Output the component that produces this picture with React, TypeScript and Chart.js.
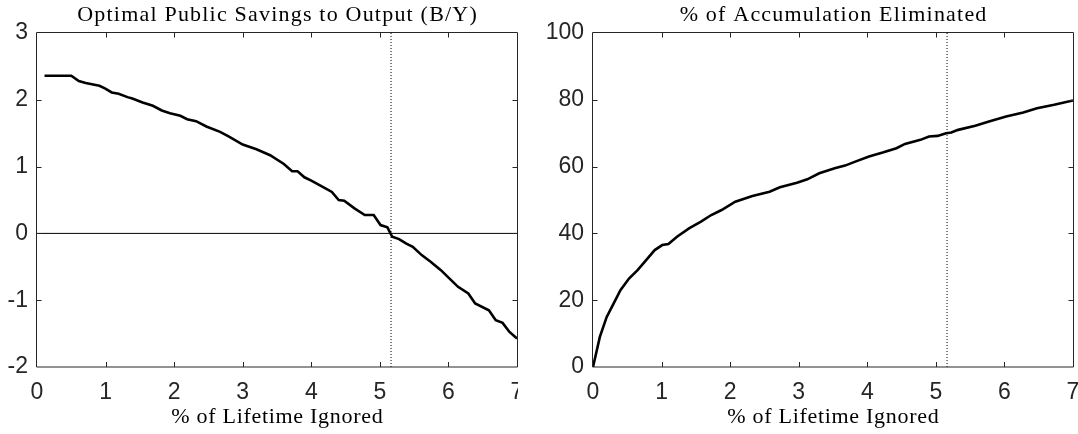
import React, { useEffect, useRef } from "react";
import { Chart, registerables } from "chart.js";

Chart.register(...registerables);

// ---- Data ----
const leftTitle = "Optimal Public Savings to Output (B/Y)";
const rightTitle = "% of Accumulation Eliminated";
const xAxisLabel = "% of Lifetime Ignored";
const markerX = 5.163;

const leftX = [0.11, 0.5, 0.61, 0.71, 0.91, 0.99, 1.09, 1.19, 1.32, 1.39, 1.54, 1.69, 1.82, 1.94, 2.09, 2.19, 2.32, 2.47, 2.67, 2.8, 3.0, 3.2, 3.4, 3.6, 3.72, 3.8, 3.9, 4.0, 4.18, 4.3, 4.4, 4.48, 4.63, 4.78, 4.91, 5.01, 5.11, 5.18, 5.28, 5.38, 5.48, 5.61, 5.74, 5.89, 5.99, 6.14, 6.29, 6.39, 6.59, 6.69, 6.79, 6.89, 7.0];
const leftY = [2.36, 2.36, 2.28, 2.25, 2.21, 2.17, 2.11, 2.09, 2.04, 2.02, 1.96, 1.91, 1.84, 1.8, 1.76, 1.71, 1.68, 1.6, 1.52, 1.45, 1.33, 1.26, 1.17, 1.04, 0.93, 0.93, 0.84, 0.79, 0.69, 0.62, 0.5, 0.49, 0.375, 0.275, 0.275, 0.125, 0.09, -0.05, -0.085, -0.15, -0.2, -0.325, -0.425, -0.55, -0.65, -0.8, -0.9, -1.05, -1.15, -1.3, -1.34, -1.475, -1.575];

const rightX = [0, 0.1, 0.2, 0.3, 0.4, 0.525, 0.65, 0.775, 0.9, 1.01, 1.1, 1.225, 1.4, 1.575, 1.725, 1.875, 2.075, 2.325, 2.575, 2.725, 2.975, 3.125, 3.3, 3.525, 3.675, 3.825, 4.025, 4.225, 4.425, 4.55, 4.775, 4.9, 5.025, 5.15, 5.225, 5.325, 5.575, 5.775, 6.025, 6.275, 6.475, 6.725, 7.0];
const rightY = [0, 9, 15, 19, 23, 26.5, 29, 32, 35, 36.5, 36.8, 39, 41.5, 43.5, 45.5, 47, 49.5, 51.2, 52.5, 53.8, 55.2, 56.2, 58, 59.5, 60.3, 61.5, 63, 64.2, 65.5, 66.8, 68, 69, 69.2, 70, 70.2, 71, 72.2, 73.5, 75, 76.2, 77.5, 78.5, 79.8];

const xMin = 0, xMax = 7, xStep = 1;
const leftYMin = -2, leftYMax = 3, leftYStep = 1;
const rightYMin = 0, rightYMax = 100, rightYStep = 20;

const AXIS_COLOR = "#262626";
const TICK_FONT = { family: "'Liberation Sans', Arial, sans-serif", size: 23 };
const SERIF = "'Liberation Serif', 'Times New Roman', serif";

const boxPlugin = {
  id: "matlabBox",
  afterDatasetsDraw(chart: any, _args: any, opts: any) {
    const { ctx, chartArea, scales } = chart;
    const { left, right, top, bottom } = chartArea;
    const xs = scales.x, ys = scales.y;
    ctx.save();
    ctx.strokeStyle = AXIS_COLOR;
    ctx.lineWidth = 1;
    ctx.beginPath();
    ctx.moveTo(left - 0.5, bottom);
    ctx.lineTo(left - 0.5, top - 0.5);
    ctx.lineTo(right + 0.5, top - 0.5);
    ctx.lineTo(right + 0.5, bottom);
    ctx.lineTo(left - 0.5, bottom);
    const tl = 5;
    xs.ticks.forEach((t: any) => {
      const p = Math.round(xs.getPixelForValue(t.value)) + 0.5;
      if (p <= left + 1 || p >= right - 1) return;
      ctx.moveTo(p, bottom);
      ctx.lineTo(p, bottom - tl);
      ctx.moveTo(p, top - 0.5);
      ctx.lineTo(p, top - 0.5 + tl);
    });
    ys.ticks.forEach((t: any) => {
      const p = Math.round(ys.getPixelForValue(t.value)) + 0.5;
      if (p <= top + 1 || p >= bottom - 1) return;
      ctx.moveTo(left - 0.5, p);
      ctx.lineTo(left - 0.5 + tl, p);
      ctx.moveTo(right + 0.5, p);
      ctx.lineTo(right + 0.5 - tl, p);
    });
    ctx.stroke();
    // title and x label
    const cx = (left + right) / 2;
    ctx.fillStyle = "#000";
    ctx.textAlign = "center";
    ctx.textBaseline = "middle";
    ctx.font = `22px ${SERIF}`;
    (ctx as any).letterSpacing = "1.2px";
    ctx.fillText(opts.text, cx + 0.6, 15.5);
    (ctx as any).letterSpacing = "0.7px";
    ctx.fillText(opts.xlabel, cx + 0.35, 417);
    (ctx as any).letterSpacing = "0px";
    ctx.restore();
  },
};

function makeConfig(
  xs: number[],
  ys: number[],
  yMin: number,
  yMax: number,
  yStep: number,
  yAxisWidth: number,
  padRight: number,
  title: string,
  withZero: boolean
): any {
  const datasets: any[] = [
    {
      data: xs.map((x, i) => ({ x, y: ys[i] })),
      borderColor: "#000",
      borderWidth: 2.6,
      pointRadius: 0,
      tension: 0,
      fill: false,
    },
    {
      data: [
        { x: markerX, y: yMin },
        { x: markerX, y: yMax },
      ],
      borderColor: "#000",
      borderWidth: 1,
      borderDash: [1, 2],
      pointRadius: 0,
      fill: false,
    },
  ];
  if (withZero) {
    datasets.push({
      data: [
        { x: xMin, y: 0 },
        { x: xMax, y: 0 },
      ],
      borderColor: "#000",
      borderWidth: 1,
      pointRadius: 0,
      fill: false,
    });
  }
  return {
    type: "line",
    data: { datasets },
    plugins: [boxPlugin],
    options: {
      animation: false,
      responsive: false,
      devicePixelRatio: 1,
      layout: { padding: { top: 33, right: padRight, bottom: 0, left: 0 } },
      plugins: {
        legend: { display: false },
        tooltip: { enabled: false },
        title: { display: false },
        matlabBox: { text: title, xlabel: xAxisLabel },
      },
      scales: {
        x: {
          type: "linear",
          min: xMin,
          max: xMax,
          grid: { display: false, drawTicks: false },
          border: { display: false },
          ticks: {
            stepSize: xStep,
            color: AXIS_COLOR,
            font: TICK_FONT,
            padding: 12,
            maxRotation: 0,
            autoSkip: false,
          },
          title: { display: false },
          afterFit: (s: any) => {
            s.height = 67;
            s.paddingLeft = 0;
            s.paddingRight = 0;
          },
        },
        y: {
          type: "linear",
          min: yMin,
          max: yMax,
          grid: { display: false, drawTicks: false },
          border: { display: false },
          ticks: {
            stepSize: yStep,
            color: AXIS_COLOR,
            font: TICK_FONT,
            padding: 9,
          },
          afterFit: (s: any) => {
            s.width = yAxisWidth;
            s.paddingTop = 0;
            s.paddingBottom = 0;
          },
        },
      },
    },
  };
}

function Panel(props: { left: number; width: number; config: any }) {
  const ref = useRef<HTMLCanvasElement | null>(null);
  useEffect(() => {
    if (!ref.current) return;
    const chart = new Chart(ref.current, props.config);
    return () => chart.destroy();
  }, []);
  return (
    <canvas
      ref={ref}
      width={props.width}
      height={434}
      style={{ position: "absolute", left: props.left, top: 0, width: props.width, height: 434 }}
    />
  );
}

export default function App() {
  const leftCfg = makeConfig(leftX, leftY, leftYMin, leftYMax, leftYStep, 37, 1, leftTitle, true);
  const rightCfg = makeConfig(rightX, rightY, rightYMin, rightYMax, rightYStep, 53, 5, rightTitle, false);
  return (
    <div style={{ position: "absolute", left: 0, top: 0, width: 1078, height: 434, background: "#fff" }}>
      <Panel left={0} width={518} config={leftCfg} />
      <Panel left={540} width={538} config={rightCfg} />
    </div>
  );
}
